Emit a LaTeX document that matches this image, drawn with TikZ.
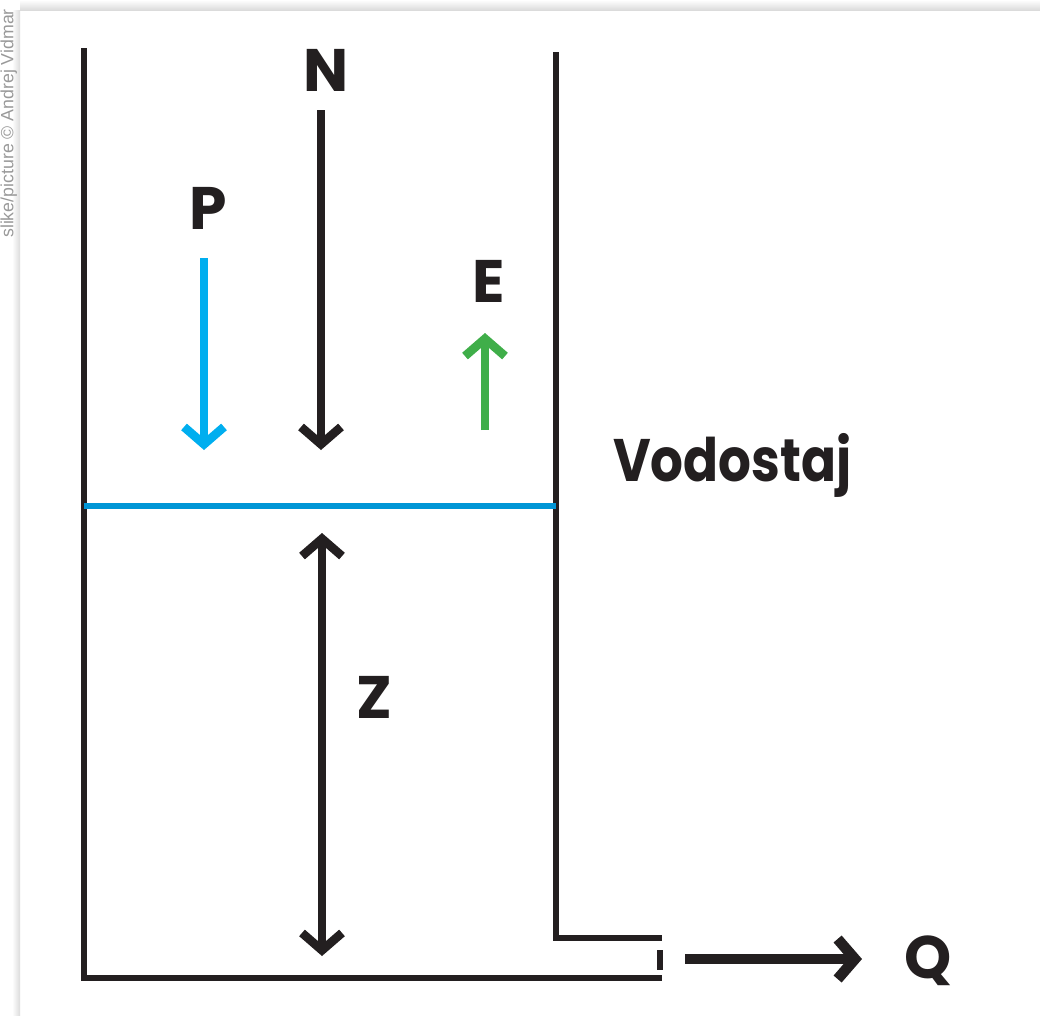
\documentclass[tikz,border=0pt]{standalone}
\usepackage{fontspec}
\usepackage{graphicx}
\setmainfont{Poppins}
\newfontfamily\notefont{Liberation Sans}
\usetikzlibrary{arrows.meta}
\definecolor{ink}{HTML}{231F20}
\definecolor{rainblue}{HTML}{00AEEF}
\definecolor{waterblue}{HTML}{0096D6}
\definecolor{evapgreen}{HTML}{3FAE49}
\tikzset{
  wall/.style={ink, line width=4.5pt},
  flow/.style={line width=6.5pt, -{Straight Barb[length=13pt, width=30pt]}},
  twoflow/.style={line width=6.5pt, {Straight Barb[length=13pt, width=30pt]}-{Straight Barb[length=13pt, width=30pt]}},
  lbl/.style={font=\bfseries\fontsize{45}{50}\selectfont, text=ink, inner sep=0pt, anchor=base}
}
\begin{document}
\begin{tikzpicture}[x=0.75pt, y=-0.75pt]
  \useasboundingbox (0,0) rectangle (1040,1015);
  \clip (0,0) rectangle (1040,1015);
  % Coordinates
  \coordinate (TL) at (84, 48);
  \coordinate (BL) at (84, 978);
  \coordinate (BR) at (662, 978);
  \coordinate (TR) at (556, 52);
  \coordinate (CR) at (556, 938);
  \coordinate (OR) at (662, 938);
  \coordinate (KA) at (660, 950);
  \coordinate (KB) at (660, 970);
  \coordinate (WL) at (84, 506);
  \coordinate (WR) at (556, 506);
  \coordinate (PA) at (204, 258);
  \coordinate (PB) at (204, 450);
  \coordinate (NA) at (321, 110);
  \coordinate (NB) at (321, 450);
  \coordinate (EA) at (485, 430);
  \coordinate (EB) at (485, 333);
  \coordinate (ZA) at (322, 533);
  \coordinate (ZB) at (322, 956);
  \coordinate (QA) at (685, 959);
  \coordinate (QB) at (862, 959);

  % Card and shadow
  \shade[top color=white, bottom color=black!14] (20,0) rectangle (1040,10);
  \shade[left color=white, right color=black!14] (12,10) rectangle (20,1015);
  \node[rotate=90, anchor=base west, inner sep=0pt, text=black!40,
    font=\notefont\fontsize{13.3}{15}\selectfont] (credit) at (13.5, 238)
    {slike/picture © Andrej Vidmar};

  % Drawing
  \draw[wall] (TL) -- (BL) -- (BR);
  \draw[wall] (TR) -- (CR) -- (OR);
  \draw[ink, line width=4pt] (KA) -- (KB);
  \draw[waterblue, line width=4.3pt] (WL) -- (WR);
  \draw[flow, rainblue] (PA) -- (PB);
  \draw[flow, ink] (NA) -- (NB);
  \draw[flow, evapgreen] (EA) -- (EB);
  \draw[twoflow, ink] (ZA) -- (ZB);
  \draw[flow, ink, line width=8pt] (QA) -- (QB);
  \node[lbl] (P) at (208, 229) {P};
  \node[lbl] (N) at (326, 91) {N};
  \node[lbl] (E) at (489, 302) {E};
  \node[lbl] (Z) at (374, 718) {Z};
  \node[lbl] (Q) at (928, 978) {Q};
  \node[lbl, anchor=base west] (level) at (613, 481) {\scalebox{0.86}[1]{Vodostaj}};
\end{tikzpicture}
\end{document}
